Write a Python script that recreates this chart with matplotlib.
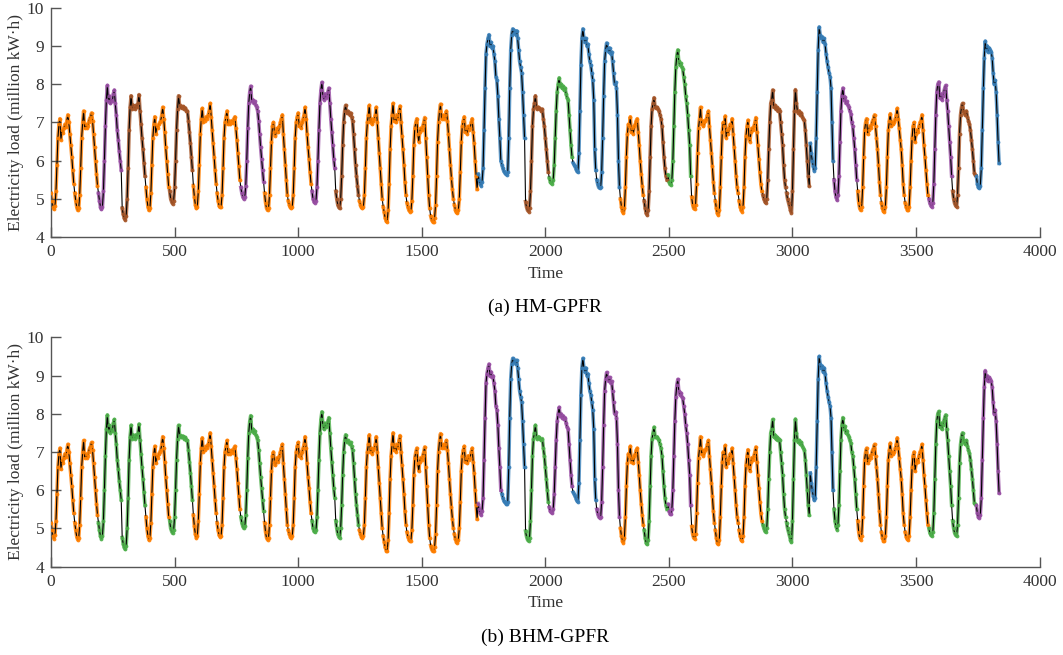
import numpy as np
import matplotlib.pyplot as plt

plt.rcParams['font.family'] = ['Liberation Serif', 'DejaVu Serif']

# hourly load values, one row per day (24 h), 40 days
load = [
    5.15, 4.95, 4.8, 4.73, 4.82, 5.2, 5.9, 6.6, 6.95, 7.1, 6.55, 6.8, 6.72, 6.85, 6.95, 6.88, 7.05, 7.2, 7.0, 6.7, 6.4, 6.1, 5.75, 5.4,
    5.15, 4.95, 4.78, 4.7, 4.75, 5.1, 5.8, 6.6, 7.0, 7.3, 6.85, 6.95, 6.85, 6.9, 7.0, 7.1, 7.15, 7.25, 7.05, 6.7, 6.35, 6.0, 5.65, 5.35,
    5.15, 4.95, 4.8, 4.73, 4.8, 5.2, 6.0, 6.9, 7.6, 7.97, 7.55, 7.7, 7.5, 7.6, 7.55, 7.75, 7.85, 7.5, 7.2, 6.8, 6.55, 6.25, 6.0, 5.75,
    4.76, 4.6, 4.5, 4.45, 4.55, 5.0, 5.8, 6.8, 7.4, 7.7, 7.35, 7.45, 7.4, 7.35, 7.45, 7.4, 7.5, 7.73, 7.3, 6.95, 6.6, 6.3, 5.95, 5.6,
    5.3, 5.0, 4.8, 4.7, 4.75, 5.15, 5.9, 6.6, 6.95, 7.15, 6.7, 6.9, 6.85, 6.95, 7.0, 7.05, 7.2, 7.4, 7.1, 6.75, 6.35, 6.0, 5.65, 5.3,
    5.2, 5.0, 4.92, 4.87, 4.95, 5.3, 6.0, 6.8, 7.35, 7.7, 7.45, 7.4, 7.38, 7.42, 7.4, 7.35, 7.38, 7.3, 7.3, 7.05, 6.75, 6.45, 6.1, 5.75,
    5.35, 5.05, 4.85, 4.75, 4.8, 5.2, 5.9, 6.7, 7.1, 7.37, 7.0, 7.1, 7.05, 7.15, 7.1, 7.2, 7.3, 7.5, 7.15, 6.8, 6.45, 6.1, 5.75, 5.4,
    5.15, 4.95, 4.82, 4.78, 4.8, 5.1, 5.8, 6.6, 7.0, 7.15, 7.3, 6.95, 7.05, 6.95, 7.0, 7.05, 6.98, 7.1, 7.15, 6.85, 6.55, 6.2, 5.85, 5.5,
    5.3, 5.15, 5.05, 5.0, 5.05, 5.35, 6.0, 6.85, 7.5, 7.8, 7.95, 7.55, 7.6, 7.5, 7.55, 7.45, 7.4, 7.3, 7.05, 6.7, 6.35, 6.05, 5.75, 5.45,
    5.15, 4.9, 4.75, 4.7, 4.75, 5.1, 5.8, 6.5, 6.9, 7.0, 6.75, 6.65, 6.8, 6.85, 6.75, 6.9, 7.0, 7.1, 7.2, 6.7, 6.3, 5.9, 5.5, 5.1,
    4.95, 4.85, 4.78, 4.75, 4.8, 5.1, 5.8, 6.6, 7.0, 7.15, 7.25, 6.9, 6.95, 6.85, 7.0, 7.1, 7.2, 7.4, 7.1, 6.7, 6.35, 6.05, 5.7, 5.4,
    5.2, 5.0, 4.92, 4.9, 4.95, 5.3, 6.0, 6.8, 7.5, 7.85, 8.05, 7.7, 7.6, 7.75, 7.65, 7.7, 7.8, 7.9, 7.5, 7.1, 6.75, 6.4, 6.05, 5.8,
    5.2, 5.0, 4.85, 4.78, 4.75, 5.0, 5.6, 6.4, 7.0, 7.3, 7.45, 7.25, 7.3, 7.25, 7.2, 7.25, 7.15, 7.05, 6.7, 6.3, 5.9, 5.6, 5.35, 5.1,
    4.95, 4.85, 4.78, 4.75, 4.8, 5.1, 5.8, 6.6, 7.0, 7.2, 7.45, 7.0, 7.1, 6.95, 7.05, 7.1, 7.2, 7.4, 7.0, 6.6, 6.2, 5.8, 5.4, 5.0,
    4.8, 4.65, 4.5, 4.42, 4.4, 4.7, 5.4, 6.3, 6.9, 7.2, 7.5, 7.05, 7.15, 7.0, 7.2, 7.1, 7.3, 7.43, 7.0, 6.65, 6.3, 5.9, 5.45, 5.1,
    4.9, 4.78, 4.7, 4.67, 4.68, 4.95, 5.6, 6.4, 6.85, 7.0, 7.1, 6.7, 6.5, 6.75, 6.85, 6.8, 6.9, 7.0, 7.13, 6.6, 6.1, 5.6, 5.1, 4.75,
    4.55, 4.45, 4.4, 4.4, 4.5, 4.85, 5.6, 6.5, 7.0, 7.3, 7.48, 7.1, 7.2, 7.15, 7.1, 7.2, 7.3, 7.05, 6.7, 6.3, 5.9, 5.55, 5.25, 5.0,
    4.85, 4.72, 4.65, 4.63, 4.7, 5.0, 5.7, 6.5, 6.9, 7.05, 7.15, 6.75, 6.85, 6.7, 6.9, 6.8, 6.85, 7.0, 7.1, 6.75, 6.45, 6.0, 5.6, 5.25,
    5.65, 5.5, 5.4, 5.35, 5.45, 5.8, 6.8, 7.9, 8.8, 9.05, 9.2, 9.3, 9.0, 9.1, 8.95, 9.0, 8.8, 8.6, 8.2, 8.1, 7.7, 7.1, 6.6, 6.0,
    5.9, 5.8, 5.72, 5.68, 5.65, 5.63, 5.7, 6.6, 7.9, 8.9, 9.3, 9.45, 9.35, 9.4, 9.3, 9.4, 9.2, 8.9, 8.6, 8.45, 8.3, 7.8, 7.2, 6.6,
    4.93, 4.78, 4.7, 4.67, 4.75, 5.2, 6.0, 6.9, 7.35, 7.5, 7.7, 7.4, 7.35, 7.4, 7.38, 7.35, 7.3, 7.35, 7.1, 6.9, 6.6, 6.3, 6.0, 5.7,
    5.55, 5.45, 5.42, 5.4, 5.5, 5.9, 6.6, 7.3, 7.8, 8.0, 8.17, 7.95, 8.0, 7.9, 7.95, 7.85, 7.9, 7.75, 7.65, 7.6, 7.2, 6.8, 6.4, 6.1,
    5.95, 5.9, 5.85, 5.78, 5.72, 5.7, 6.2, 7.3, 8.5, 9.2, 9.45, 9.2, 9.1, 9.2, 9.0, 9.05, 8.8, 8.6, 8.5, 8.3, 8.1, 7.6, 6.3, 5.75,
    5.5, 5.38, 5.3, 5.28, 5.3, 5.7, 6.6, 7.7, 8.6, 8.9, 9.08, 8.95, 8.85, 8.95, 8.8, 8.85, 8.6, 8.3, 8.0, 8.05, 7.9, 7.2, 6.0, 5.3,
    5.0, 4.8, 4.68, 4.63, 4.75, 5.3, 6.1, 6.7, 6.95, 6.9, 7.15, 6.75, 6.85, 6.7, 6.9, 6.95, 7.05, 7.1, 6.75, 6.4, 6.0, 5.65, 5.35, 5.1,
    4.95, 4.75, 4.62, 4.58, 4.7, 5.2, 6.1, 6.9, 7.35, 7.5, 7.65, 7.4, 7.38, 7.4, 7.35, 7.3, 7.2, 7.1, 6.9, 6.5, 6.1, 5.8, 5.6, 5.5,
    5.63, 5.45, 5.38, 5.37, 5.5, 6.0, 6.9, 7.8, 8.45, 8.75, 8.9, 8.6, 8.5, 8.55, 8.45, 8.4, 8.2, 8.0, 7.7, 7.5, 7.2, 6.8, 6.4, 5.6,
    5.05, 4.85, 4.75, 4.73, 4.85, 5.4, 6.2, 6.85, 7.1, 7.4, 6.95, 7.05, 6.9, 7.0, 7.05, 7.1, 7.2, 7.3, 6.9, 6.55, 6.2, 5.85, 5.45, 5.15,
    4.95, 4.75, 4.62, 4.58, 4.7, 5.3, 6.1, 6.75, 7.0, 6.9, 7.17, 6.6, 6.8, 6.7, 6.85, 6.95, 6.9, 7.1, 6.7, 6.35, 6.0, 5.6, 5.3, 5.15,
    4.95, 4.8, 4.7, 4.67, 4.8, 5.3, 6.1, 6.65, 6.9, 7.06, 6.6, 6.5, 6.75, 6.85, 6.8, 6.9, 7.0, 7.13, 6.75, 6.4, 6.05, 5.7, 5.4, 5.2,
    5.1, 5.0, 4.93, 4.9, 5.0, 5.5, 6.3, 7.0, 7.5, 7.6, 7.85, 7.4, 7.45, 7.35, 7.4, 7.3, 7.35, 7.3, 7.0, 6.7, 6.4, 5.9, 5.5, 5.3,
    5.15, 5.0, 4.9, 4.8, 4.7, 4.64, 5.2, 6.3, 7.3, 7.86, 7.5, 7.3, 7.25, 7.3, 7.2, 7.25, 7.15, 7.1, 7.06, 6.8, 6.4, 6.0, 5.6, 5.35,
    6.45, 6.2, 6.0, 5.85, 5.74, 5.8, 6.6, 7.8, 8.9, 9.5, 9.3, 9.2, 9.25, 9.1, 9.2, 9.05, 8.8, 8.6, 8.45, 8.3, 8.2, 7.9, 7.0, 6.0,
    5.5, 5.2, 5.05, 4.97, 5.1, 5.6, 6.5, 7.3, 7.7, 7.9, 7.6, 7.67, 7.5, 7.55, 7.45, 7.4, 7.3, 7.23, 7.0, 6.9, 6.6, 6.3, 5.9, 5.5,
    5.2, 4.9, 4.75, 4.7, 4.8, 5.3, 6.1, 6.8, 7.0, 7.1, 6.7, 6.8, 6.9, 6.85, 6.95, 7.05, 7.1, 7.2, 6.9, 6.6, 6.3, 5.9, 5.45, 5.1,
    4.9, 4.75, 4.68, 4.67, 4.8, 5.3, 6.1, 6.8, 7.05, 7.23, 6.9, 7.0, 6.95, 7.0, 7.1, 7.2, 7.37, 7.1, 6.85, 6.55, 6.3, 5.9, 5.4, 5.1,
    4.9, 4.78, 4.72, 4.7, 4.8, 5.3, 6.0, 6.6, 6.9, 7.0, 6.5, 6.7, 6.8, 6.75, 6.9, 7.0, 7.05, 7.2, 6.8, 6.4, 6.1, 5.75, 5.4, 5.1,
    5.0, 4.88, 4.82, 4.8, 4.9, 5.4, 6.3, 7.2, 7.8, 8.0, 8.06, 7.65, 7.75, 7.6, 7.7, 7.8, 7.9, 7.97, 7.6, 7.3, 6.9, 6.5, 6.1, 5.6,
    5.2, 5.0, 4.88, 4.82, 4.8, 5.1, 5.8, 6.7, 7.2, 7.4, 7.5, 7.3, 7.25, 7.2, 7.3, 7.15, 7.05, 6.97, 6.8, 6.55, 6.3, 6.0, 5.67, 5.63,
    5.6, 5.4, 5.3, 5.28, 5.35, 5.8, 6.8, 7.9, 8.7, 9.13, 8.9, 9.0, 8.85, 8.95, 8.9, 8.85, 8.7, 8.3, 8.0, 8.1, 7.8, 7.2, 6.5, 5.93,
]
points_per_day = 96     # 15-min samples per day on the time axis
hours_per_day = 24

# cluster assigned to each day: O orange, P purple, B brown, L blue, G green
clusters_hm = ['O', 'O', 'P', 'B', 'O', 'B', 'O', 'O', 'P', 'O',
               'O', 'P', 'B', 'O', 'O', 'O', 'O', 'O', 'L', 'L',
               'B', 'G', 'L', 'L', 'O', 'B', 'G', 'O', 'O', 'O',
               'B', 'B', 'L', 'P', 'O', 'O', 'O', 'P', 'B', 'L']
clusters_bhm = ['O', 'O', 'G', 'G', 'O', 'G', 'O', 'O', 'G', 'O',
                'O', 'G', 'G', 'O', 'O', 'O', 'O', 'O', 'P', 'L',
                'G', 'P', 'L', 'P', 'O', 'G', 'P', 'O', 'O', 'O',
                'G', 'G', 'L', 'G', 'O', 'O', 'O', 'G', 'G', 'P']
colors = {'O': '#ff7f00', 'P': '#984ea3', 'B': '#a65628',
          'L': '#377eb8', 'G': '#4daf4a'}

captions = ['(a) HM-GPFR', '(b) BHM-GPFR']

y = np.array(load)
t = np.arange(len(y)) * (points_per_day // hours_per_day)

fig = plt.figure(figsize=(10.63, 6.55), dpi=100)
ax_top = fig.add_axes([0.048, 0.638, 0.930, 0.350])
ax_bot = fig.add_axes([0.048, 0.135, 0.930, 0.350])

for ax, clusters, cap in zip([ax_top, ax_bot], [clusters_hm, clusters_bhm], captions):
    for k, c in enumerate(clusters):
        s = slice(k * hours_per_day, (k + 1) * hours_per_day)
        # colored band under the black trace, dots on top
        ax.plot(t[s], y[s], '-', color=colors[c], lw=2.6, alpha=0.8, zorder=1)
        ax.plot(t[s], y[s], '.', color=colors[c], ms=5.5, mew=0, alpha=0.9, zorder=3)
    ax.plot(t, y, color='k', lw=0.8, zorder=2)
    ax.set_xlim(0, 4000)
    ax.set_ylim(4, 10)
    ax.set_xticks(np.arange(0, 4001, 500))
    ax.set_yticks(np.arange(4, 11, 1))
    for side in ['top', 'right']:
        ax.spines[side].set_visible(False)
    for side in ['left', 'bottom']:
        ax.spines[side].set_color('#555555')
        ax.spines[side].set_linewidth(1.0)
    ax.tick_params(direction='in', length=7.5, width=1.0, color='#555555',
                   labelsize=12.5, labelcolor='#333333', pad=5)
    ax.set_xlabel('Time', fontsize=12.5, color='#333333', labelpad=4)
    ax.set_ylabel('Electricity load (million kW·h)', fontsize=12.5, color='#333333', labelpad=2)
    ax.text(0.5, -0.27, cap, transform=ax.transAxes, ha='center', va='top', fontsize=14)

fig.savefig('out.png', dpi=100)
